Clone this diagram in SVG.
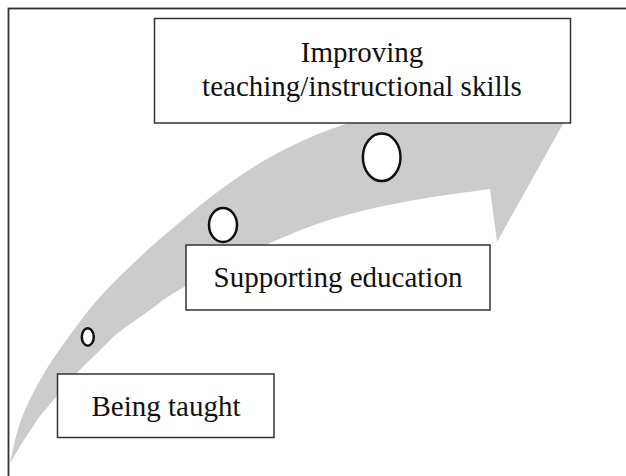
<svg xmlns="http://www.w3.org/2000/svg" width="626" height="476" viewBox="0 0 626 476">
<style>
.frame{fill:none;stroke:#333;stroke-width:1.8}
.box{fill:#fff;stroke:#333;stroke-width:1.5}
.dot{fill:#fff;stroke:#111;stroke-width:2.5}
.lbl{font-family:"Liberation Serif","Times New Roman",serif;font-size:29px;fill:#111;text-anchor:middle}
.band{fill:#cccccc;stroke:none}
</style>
<rect width="626" height="476" fill="#fff"/>
<rect class="frame" x="8.5" y="8.5" width="640" height="500"/>
<g id="connectors">
<path class="band" d="M10,463 C11.8,455.8 15.5,434.7 21,420 C26.5,405.3 34.8,389.2 43,375 C51.2,360.8 60.5,348 70,335 C79.5,322 88.3,310 100,297 C111.7,284 126.7,269.5 140,257 C153.3,244.5 166.7,233.2 180,222 C193.3,210.8 206.7,199.8 220,190 C233.3,180.2 246.7,171 260,163 C273.3,155 286.7,148.2 300,142 C313.3,135.8 323.3,131.7 340,126 C356.7,120.3 380,113.2 400,108 C420,102.8 450,97.2 460,95 L505,62 L568,115 L497,242 L490,189 C479.5,190.5 447,194.7 427,198 C407,201.3 387.8,204.8 370,209 C352.2,213.2 336.7,217.3 320,223 C303.3,228.7 287.5,235.5 270,243 C252.5,250.5 232.8,258.5 215,268 C198,279.5 180,288.5 163,300 C147.5,313.3 128.5,323.7 113,337 C100.3,350.8 82.7,366.2 70,380 C62.3,390 44.7,410 37,420 C32.5,427.2 28.5,432.8 24,440 C21.7,443.8 12.3,459.2 10,463 Z"/>
</g>
<g id="step-dots">
<ellipse class="dot" cx="87.8" cy="337" rx="6" ry="8.7"/>
<ellipse class="dot" cx="223" cy="225" rx="14" ry="17"/>
<ellipse class="dot" cx="381.7" cy="157.3" rx="18.8" ry="23.8"/>
</g>
<g id="node-improving">
<rect class="box" x="154.5" y="18.5" width="416" height="104.5"/>
<text class="lbl" x="362" y="62">Improving</text>
<text class="lbl" x="362" y="96">teaching/instructional skills</text>
</g>
<g id="node-supporting">
<rect class="box" x="186" y="245" width="304" height="65"/>
<text class="lbl" x="338" y="287">Supporting education</text>
</g>
<g id="node-being-taught">
<rect class="box" x="57.5" y="374" width="216.5" height="63.5"/>
<text class="lbl" x="166" y="416">Being taught</text>
</g>
</svg>
